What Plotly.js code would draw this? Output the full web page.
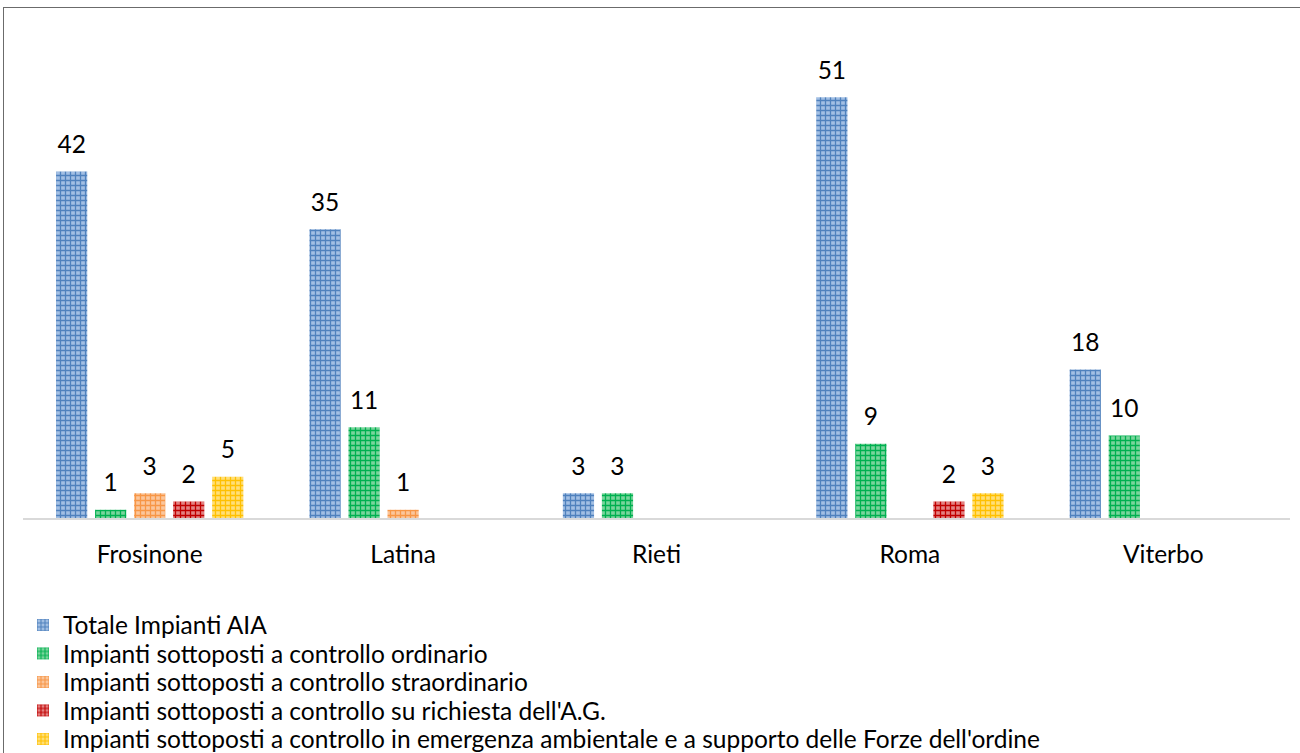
<!DOCTYPE html>
<html>
<head>
<meta charset="utf-8">
<script src="https://cdn.plot.ly/plotly-3.0.1.min.js"></script>
<style>
  html, body { margin: 0; padding: 0; background: #fff; }
  #frame { position: absolute; left: 3px; top: 7px; width: 1297px; height: 746px;
           border-top: 1px solid #6b6b6b; border-left: 1px solid #6b6b6b; }
  #chart { position: absolute; left: 0; top: 0; width: 1300px; height: 753px; }
</style>
</head>
<body>
<div id="frame"></div>
<div id="chart"></div>
<script>
const categories = ["Frosinone", "Latina", "Rieti", "Roma", "Viterbo"];
const seriesNames = [
  "Totale Impianti AIA",
  "Impianti sottoposti a controllo ordinario",
  "Impianti sottoposti a controllo straordinario",
  "Impianti sottoposti a controllo su richiesta dell'A.G.",
  "Impianti sottoposti a controllo in emergenza ambientale e a supporto delle Forze dell'ordine"
];
const totale        = [42, 35, 3, 51, 18];
const ordinario     = [1, 11, 3, 9, 10];
const straordinario = [3, 1, null, null, null];
const richiestaAG   = [2, null, null, 2, null];
const emergenza     = [5, null, null, 3, null];
const seriesValues = [totale, ordinario, straordinario, richiestaAG, emergenza];

const fgColors = ["#4f81bd", "#00b050", "#f79646", "#c00000", "#ffc000"];
const bgColors = ["#a2bfe4", "#7ad59c", "#fbc69c", "#e38282", "#ffdf78"];

const FONT = "Lato, 'Open Sans', sans-serif";
const FS = 24.5;
const SPACER_FS = 10.5;

const plotTop = 23, plotBottom = 518, H = 753;
const plotH = plotBottom - plotTop;
const legendCenters = [625, 653.5, 682, 710.5, 739];

const traces = seriesValues.map((vals, i) => ({
  type: "bar",
  name: seriesNames[i],
  legend: i === 0 ? "legend" : "legend" + (i + 1),
  x: categories,
  y: vals,
  text: vals.map(v => v == null ? "" : String(v)),
  texttemplate: "<span style='font-size:" + FS + "px'>%{text}</span><br> ",
  textposition: "outside",
  cliponaxis: false,
  constraintext: "none",
  textfont: { family: FONT, size: SPACER_FS, color: "#000" },
  marker: {
    color: bgColors[i],
    line: { width: 0 },
    pattern: { shape: "+", size: 5, solidity: 0.45, fgcolor: fgColors[i], bgcolor: bgColors[i], fillmode: "replace" }
  },
  hoverinfo: "x+y+name"
}));

const layout = {
  width: 1300, height: 753,
  margin: { l: 23, r: 10, t: plotTop, b: H - plotBottom, autoexpand: false },
  paper_bgcolor: "rgba(0,0,0,0)",
  plot_bgcolor: "rgba(0,0,0,0)",
  barmode: "group",
  bargap: 0.23,
  bargroupgap: 0.2,
  font: { family: FONT, size: FS, color: "#000" },
  xaxis: {
    showline: true, linecolor: "#d9d9d9", linewidth: 2,
    ticks: "", showgrid: false, zeroline: false,
    ticklabelstandoff: 14,
    tickfont: { family: FONT, size: FS, color: "#000" }
  },
  yaxis: { range: [0, 60], visible: false, showgrid: false, zeroline: false },
  showlegend: true
};

legendCenters.forEach((yc, i) => {
  layout[i === 0 ? "legend" : "legend" + (i + 1)] = {
    x: 0, xanchor: "left",
    y: (plotBottom - yc) / plotH, yanchor: "middle",
    orientation: "v",
    font: { family: FONT, size: FS, color: "#000" },
    itemwidth: 30, bgcolor: "rgba(0,0,0,0)", borderwidth: 0
  };
});

Plotly.newPlot("chart", traces, layout, { displayModeBar: false, responsive: false });
</script>
</body>
</html>
